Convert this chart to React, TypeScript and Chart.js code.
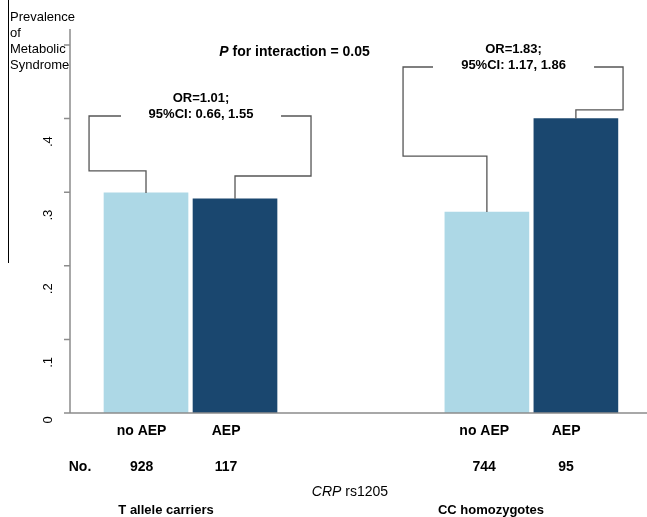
import React, { useEffect, useRef } from "react";
import { Chart, registerables } from "chart.js";

Chart.register(...registerables);

// ---- data ----
const categories = ["no AEP", "AEP", "no AEP", "AEP"];
const counts = ["928", "117", "744", "95"];
const prevalence = [0.299, 0.291, 0.273, 0.4];
const barSlots = [1, 2, 4.83, 5.83];
const labelSlots = [0.95, 1.9, 4.8, 5.72];
const groups = ["T allele carriers", "CC homozygotes"];
const groupSlots = [1.225, 4.876];
const yTickValues = [0, 0.1, 0.2, 0.3, 0.4, 0.5];
const yTickLabels = ["0", ".1", ".2", ".3", ".4", ""];
const orLines = [
  ["OR=1.01;", "95%CI: 0.66, 1.55"],
  ["OR=1.83;", "95%CI: 1.17, 1.86"],
];
const titleLines = ["Prevalence", "of", "Metabolic", "Syndrome"];

// bracket geometry in data units
const brackets = [
  { l: 0, r: 1, outerL: 0.36, outerR: 2.854, stemL: 0.329, stemR: 0.322, top: 0.4035, gapL: 0.719, gapR: 2.517 },
  { l: 2, r: 3, outerL: 3.888, outerR: 6.36, stemL: 0.349, stemR: 0.4117, top: 0.4701, gapL: 4.225, gapR: 6.034 },
];

const LIGHT = "#add8e6";
const DARK = "#1a476f";
const FONT = '"Liberation Sans", Arial, Helvetica, sans-serif';

function drawMixed(ctx: CanvasRenderingContext2D, parts: { t: string; f: string }[], cx: number, y: number) {
  let total = 0;
  const widths = parts.map((p) => {
    ctx.font = p.f;
    const w = ctx.measureText(p.t).width;
    total += w;
    return w;
  });
  let x = cx - total / 2;
  ctx.textAlign = "left";
  parts.forEach((p, i) => {
    ctx.font = p.f;
    ctx.fillText(p.t, x, y);
    x += widths[i];
  });
}

const overlay = {
  id: "overlay",
  afterDraw(chart: any) {
    const { ctx, chartArea, scales } = chart;
    const xs = scales.x;
    const ys = scales.y;
    const { left, right, top, bottom } = chartArea;
    ctx.save();

    // axes
    ctx.strokeStyle = "#8c8c8c";
    ctx.lineWidth = 1.5;
    ctx.beginPath();
    ctx.moveTo(left, top);
    ctx.lineTo(left, bottom);
    ctx.moveTo(left - 6, bottom);
    ctx.lineTo(right, bottom);
    yTickValues.forEach((v) => {
      const y = ys.getPixelForValue(v);
      ctx.moveTo(left - 6, y);
      ctx.lineTo(left, y);
    });
    ctx.stroke();

    // y tick labels (rotated)
    ctx.fillStyle = "#000";
    ctx.font = `13px ${FONT}`;
    ctx.textAlign = "center";
    ctx.textBaseline = "middle";
    yTickValues.forEach((v, i) => {
      const lab = yTickLabels[i];
      if (!lab) return;
      const y = ys.getPixelForValue(v) + (lab.length > 1 ? 23 : 7);
      ctx.save();
      ctx.translate(48, y);
      ctx.rotate(-Math.PI / 2);
      ctx.fillText(lab, 0, 0);
      ctx.restore();
    });

    // title box line + text
    ctx.strokeStyle = "#000";
    ctx.lineWidth = 1;
    ctx.beginPath();
    ctx.moveTo(8.5, 0);
    ctx.lineTo(8.5, 263);
    ctx.stroke();
    ctx.textAlign = "left";
    ctx.textBaseline = "alphabetic";
    ctx.font = `13px ${FONT}`;
    titleLines.forEach((t, i) => ctx.fillText(t, 10, 21 + i * 16));

    // brackets
    ctx.strokeStyle = "#555";
    ctx.lineWidth = 1.3;
    brackets.forEach((b, k) => {
      const xl = xs.getPixelForValue(barSlots[b.l]);
      const xr = xs.getPixelForValue(barSlots[b.r]);
      const yl = ys.getPixelForValue(prevalence[b.l]);
      const yr = ys.getPixelForValue(prevalence[b.r]);
      const ysl = ys.getPixelForValue(b.stemL);
      const ysr = ys.getPixelForValue(b.stemR);
      const yt = ys.getPixelForValue(b.top);
      const ol = xs.getPixelForValue(b.outerL);
      const or = xs.getPixelForValue(b.outerR);
      const gl = xs.getPixelForValue(b.gapL);
      const gr = xs.getPixelForValue(b.gapR);
      ctx.beginPath();
      ctx.moveTo(xl, yl);
      ctx.lineTo(xl, ysl);
      ctx.lineTo(ol, ysl);
      ctx.lineTo(ol, yt);
      ctx.lineTo(gl, yt);
      ctx.moveTo(xr, yr);
      ctx.lineTo(xr, ysr);
      ctx.lineTo(or, ysr);
      ctx.lineTo(or, yt);
      ctx.lineTo(gr, yt);
      ctx.stroke();
      ctx.fillStyle = "#000";
      ctx.font = `bold 13px ${FONT}`;
      ctx.textAlign = "center";
      const cx = (gl + gr) / 2;
      ctx.fillText(orLines[k][0], cx, yt - 14);
      ctx.fillText(orLines[k][1], cx, yt + 2);
    });

    // P for interaction
    ctx.fillStyle = "#000";
    drawMixed(
      ctx,
      [
        { t: "P", f: `italic bold 14px ${FONT}` },
        { t: " for interaction = 0.05", f: `bold 14px ${FONT}` },
      ],
      xs.getPixelForValue(2.669),
      ys.getPixelForValue(0.485)
    );

    // bottom labels
    ctx.textAlign = "center";
    ctx.font = `bold 14px ${FONT}`;
    categories.forEach((c, i) => ctx.fillText(c, xs.getPixelForValue(labelSlots[i]), bottom + 22));
    counts.forEach((c, i) => ctx.fillText(c, xs.getPixelForValue(labelSlots[i]), bottom + 58));
    ctx.fillText("No.", 80, bottom + 58);
    ctx.font = `bold 13px ${FONT}`;
    groups.forEach((g, i) => ctx.fillText(g, xs.getPixelForValue(groupSlots[i]), bottom + 101));
    drawMixed(
      ctx,
      [
        { t: "CRP", f: `italic 14px ${FONT}` },
        { t: " rs1205", f: `14px ${FONT}` },
      ],
      xs.getPixelForValue(3.292),
      bottom + 83
    );

    ctx.restore();
  },
};

export default function App() {
  const ref = useRef<HTMLCanvasElement | null>(null);
  useEffect(() => {
    if (!ref.current) return;
    const chart = new Chart(ref.current, {
      type: "bar",
      data: {
        datasets: [
          {
            data: barSlots.map((x, i) => ({ x, y: prevalence[i] })),
            backgroundColor: [LIGHT, DARK, LIGHT, DARK],
            borderWidth: 0,
            barThickness: 84,
          },
        ],
      },
      options: {
        animation: false,
        responsive: false,
        layout: { padding: { left: 70, top: 29, right: 0, bottom: 104 } },
        plugins: { legend: { display: false }, tooltip: { enabled: false } },
        scales: {
          x: { type: "linear", min: 0.146, max: 6.629, offset: false, display: false },
          y: { min: 0, max: 0.5217, display: false },
        },
      },
      plugins: [overlay],
    } as any);
    return () => chart.destroy();
  }, []);
  return (
    <div style={{ position: "absolute", left: 0, top: 0, width: 647, height: 517, background: "#fff" }}>
      <canvas ref={ref} width={647} height={517} style={{ display: "block" }} />
    </div>
  );
}
